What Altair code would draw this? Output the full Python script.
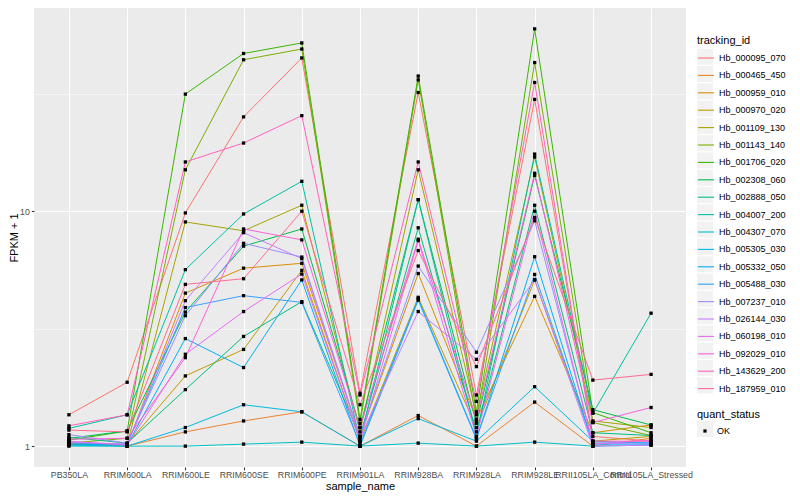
import math
import altair as alt
import pandas as pd

samples = ["PB350LA", "RRIM600LA", "RRIM600LE", "RRIM600SE", "RRIM600PE", "RRIM901LA",
           "RRIM928BA", "RRIM928LA", "RRIM928LE", "RRII105LA_Control", "RRII105LA_Stressed"]

tracking_ids = ["Hb_000095_070", "Hb_000465_450", "Hb_000959_010", "Hb_000970_020",
                "Hb_001109_130", "Hb_001143_140", "Hb_001706_020", "Hb_002308_060",
                "Hb_002888_050", "Hb_004007_200", "Hb_004307_070", "Hb_005305_030",
                "Hb_005332_050", "Hb_005488_030", "Hb_007237_010", "Hb_026144_030",
                "Hb_060198_010", "Hb_092029_010", "Hb_143629_200", "Hb_187959_010"]

# FPKM + 1 per sample (same order as samples)
hb_000095_070 = [1.36, 1.87, 9.83, 25.2, 44.9, 1.68, 32.0, 1.65, 29.9, 1.10, 1.05]
hb_000465_450 = [1.02, 1.00, 1.15, 1.28, 1.40, 1.00, 1.35, 1.00, 1.54, 1.00, 1.08]
hb_000959_010 = [1.03, 1.01, 4.48, 5.72, 6.00, 1.10, 5.43, 1.30, 4.34, 1.14, 1.23]
hb_000970_020 = [1.01, 1.02, 1.99, 2.58, 5.60, 1.05, 4.30, 1.20, 5.10, 1.05, 1.10]
hb_001109_130 = [1.02, 1.02, 9.00, 8.25, 10.6, 1.15, 15.0, 1.36, 17.0, 1.28, 1.20]
hb_001143_140 = [1.03, 1.08, 15.0, 44.1, 49.0, 1.25, 36.2, 1.28, 42.9, 1.26, 1.11]
hb_001706_020 = [1.06, 1.16, 31.5, 46.9, 52.0, 1.30, 37.6, 1.40, 59.7, 1.39, 1.14]
hb_002308_060 = [1.08, 1.16, 3.72, 7.10, 8.40, 1.20, 11.2, 1.25, 14.2, 1.43, 1.23]
hb_002888_050 = [1.09, 1.03, 1.74, 2.93, 4.12, 1.10, 8.50, 1.15, 10.6, 1.14, 1.11]
hb_004007_200 = [1.19, 1.36, 5.64, 9.73, 13.4, 1.05, 11.2, 1.10, 17.5, 1.38, 3.68]
hb_004307_070 = [1.00, 1.00, 1.00, 1.02, 1.04, 1.00, 1.03, 1.00, 1.04, 1.00, 1.01]
hb_005305_030 = [1.01, 1.00, 1.20, 1.50, 1.40, 1.00, 1.31, 1.05, 1.79, 1.05, 1.03]
hb_005332_050 = [1.02, 1.01, 2.87, 2.16, 5.10, 1.00, 4.18, 1.07, 6.40, 1.02, 1.02]
hb_005488_030 = [1.03, 1.02, 3.89, 4.37, 4.09, 1.02, 4.25, 1.08, 5.38, 1.03, 1.04]
hb_007237_010 = [1.12, 1.03, 3.59, 7.30, 6.38, 1.10, 5.84, 2.51, 9.10, 1.03, 1.02]
hb_026144_030 = [1.04, 1.02, 4.16, 8.10, 6.28, 1.08, 3.74, 2.34, 5.10, 1.00, 1.01]
hb_060198_010 = [1.05, 1.01, 2.46, 3.74, 5.40, 1.05, 7.50, 1.10, 10.0, 1.02, 1.06]
hb_092029_010 = [1.07, 1.08, 2.38, 8.40, 7.55, 1.20, 7.60, 1.30, 14.5, 1.26, 1.46]
hb_143629_200 = [1.22, 1.36, 16.2, 19.5, 25.5, 1.65, 16.2, 1.55, 35.3, 1.05, 1.05]
hb_187959_010 = [1.17, 1.15, 4.88, 5.16, 10.0, 1.50, 6.80, 2.18, 9.40, 1.91, 2.02]

series = [hb_000095_070, hb_000465_450, hb_000959_010, hb_000970_020, hb_001109_130,
          hb_001143_140, hb_001706_020, hb_002308_060, hb_002888_050, hb_004007_200,
          hb_004307_070, hb_005305_030, hb_005332_050, hb_005488_030, hb_007237_010,
          hb_026144_030, hb_060198_010, hb_092029_010, hb_143629_200, hb_187959_010]

quant_status = ["OK"]

palette = ["#F8766D", "#EA8331", "#D89000", "#C09B00", "#A3A500", "#7CAE00", "#39B600",
           "#00BB4E", "#00BF7D", "#00C1A3", "#00BFC4", "#00BAE0", "#00B0F6", "#35A2FF",
           "#9590FF", "#C77CFF", "#E76BF3", "#FA62DB", "#FF62BC", "#FF6C91"]

rows = []
for tid, vals in zip(tracking_ids, series):
    for s, v in zip(samples, vals):
        rows.append({"tracking_id": tid, "sample_name": s, "fpkm1": v,
                     "quant_status": "OK", "tid_key": tid, "qs_key": "OK"})
df = pd.DataFrame(rows)

# ggplot-like 5% expansion on the log scale
lo = math.log10(df["fpkm1"].min())
hi = math.log10(df["fpkm1"].max())
ext = 0.05 * (hi - lo)
ydom = [10 ** (lo - ext), 10 ** (hi + ext)]

FONT = "Liberation Sans"
W, H = 652, 459
PAD_L, PAD_R = 26, 106          # 26 + 652 + 106 = 784 = page width minus margins
LX = 697 - 8 - PAD_L            # legend column starts at x = 697 on the page

xenc_axis = alt.X("sample_name:N", sort=samples,
                  scale=alt.Scale(type="point", padding=0.6, domain=samples),
                  axis=alt.Axis(title="sample_name", grid=True, gridColor="white", gridWidth=1.07,
                                domain=False, ticks=True, tickColor="#333333", tickSize=2.7,
                                tickWidth=1.07, labelColor="#4D4D4D", labelFontSize=8.8,
                                labelFont=FONT, labelPadding=1, labelOverlap=False,
                                labelBound=False, labelAngle=0, titleFont=FONT,
                                titleFontSize=11, titleFontWeight="normal", titleColor="black",
                                titleBaseline="middle", titleY=19.5, titleX=W / 2))
xenc_none = alt.X("sample_name:N", sort=samples,
                  scale=alt.Scale(type="point", padding=0.6, domain=samples), axis=None)

yscale = alt.Scale(type="log", domain=ydom, nice=False)
yenc_axis = alt.Y("fpkm1:Q", scale=yscale,
                  axis=alt.Axis(title="FPKM + 1", values=[1, 10], format="~g", grid=True,
                                gridColor="white", gridWidth=1.07, domain=False,
                                tickColor="#333333", tickSize=2.7, tickWidth=1.07,
                                labelColor="#4D4D4D", labelFontSize=8.8, labelFont=FONT,
                                labelPadding=2, titleFont=FONT, titleFontSize=11,
                                titleFontWeight="normal", titleColor="black",
                                titleBaseline="middle", titleX=-20, titleY=H / 2))
yenc_minor = alt.Y("fpkm1:Q", scale=yscale,
                   axis=alt.Axis(orient="right", values=[10 ** 0.5, 10 ** 1.5], grid=True,
                                 gridColor="white", gridWidth=0.53, domain=False, ticks=False,
                                 labels=False, title=None))
yenc_none = alt.Y("fpkm1:Q", scale=yscale, axis=None)

common_leg = dict(orient="none", padding=0, symbolSize=256,
                  labelFont=FONT, labelFontSize=9, labelOffset=4, titleFont=FONT,
                  titleFontSize=11, titleFontWeight="normal", titlePadding=3,
                  titleColor="black", labelColor="black", legendX=LX)
box_leg = dict(orient="none", padding=0, symbolSize=256, symbolType="square",
               symbolOpacity=1, symbolStrokeWidth=0, labelExpr="''", labelFontSize=9,
               rowPadding=1.3, title=None, legendX=LX)

# grey key boxes of the tracking_id legend (data-driven domain so it is not merged)
keys_a = alt.Chart(df).mark_square(opacity=0, filled=True).encode(
    x=xenc_none, y=yenc_none,
    color=alt.Color("tid_key:N", scale=alt.Scale(range=["#F2F2F2"] * len(tracking_ids)),
                    legend=alt.Legend(legendY=40.7, **box_leg)))

lines = alt.Chart(df).mark_line(strokeWidth=1).encode(
    x=xenc_axis, y=yenc_axis,
    stroke=alt.Stroke("tracking_id:N", scale=alt.Scale(domain=tracking_ids, range=palette),
                      legend=alt.Legend(title="tracking_id", symbolType="stroke",
                                        symbolStrokeWidth=1.1, legendY=27, rowPadding=3.4,
                                        **common_leg)))

keys_b = alt.Chart(df).mark_square(opacity=0, filled=True).encode(
    x=xenc_none, y=yenc_none,
    fill=alt.Fill("qs_key:N", scale=alt.Scale(range=["#F2F2F2"]),
                  legend=alt.Legend(legendY=413, **box_leg)))

sq = "M-0.2,-0.2H0.2V0.2H-0.2Z"
points = alt.Chart(df).mark_point(filled=True, opacity=1, size=272).encode(
    x=xenc_none, y=yenc_minor,
    color=alt.value("black"),
    shape=alt.Shape("quant_status:N", scale=alt.Scale(domain=quant_status, range=[sq]),
                    legend=alt.Legend(title="quant_status", symbolFillColor="black",
                                      symbolStrokeWidth=0, legendY=401, rowPadding=1.3,
                                      **common_leg)))

chart = alt.layer(keys_a, lines, keys_b, points).resolve_axis(
    x="independent", y="independent"
).properties(
    width=W, height=H,
    autosize=alt.AutoSizeParams(type="none"),
    padding={"left": PAD_L, "top": 0, "right": PAD_R, "bottom": 25},
).configure_view(fill="#EBEBEB", stroke=None)

chart.save("out.html", embed_options={"renderer": "svg", "actions": False})
